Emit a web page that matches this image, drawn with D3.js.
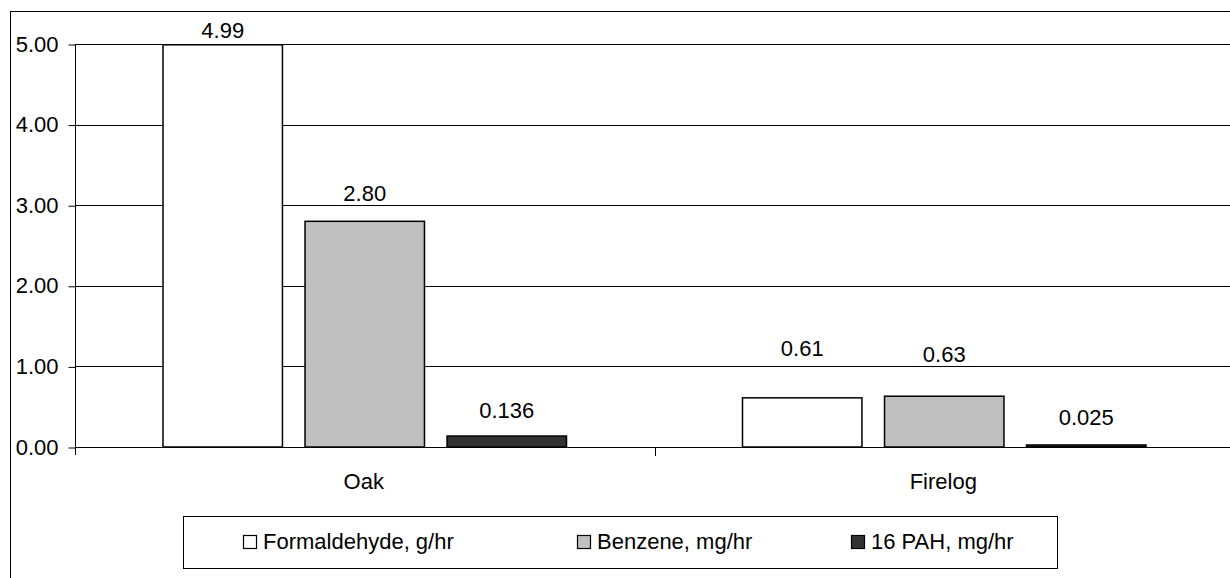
<!DOCTYPE html>
<html>
<head>
<meta charset="utf-8">
<script src="https://cdn.jsdelivr.net/npm/d3@7"></script>
<style>
  body { margin: 0; background: #fff; }
  svg { font-family: "Liberation Sans", Arial, sans-serif; }
</style>
</head>
<body>
<svg id="chart" width="1230" height="578"></svg>
<script>
var categories = ["Oak", "Firelog"]
var seriesNames = ["Formaldehyde, g/hr", "Benzene, mg/hr", "16 PAH, mg/hr"]
var formaldehyde = [4.99, 0.61]
var benzene = [2.80, 0.63]
var pah = [0.136, 0.025]
var valueLabels = [["4.99", "2.80", "0.136"], ["0.61", "0.63", "0.025"]]
var yTicks = [0, 1, 2, 3, 4, 5]

// how far each value label sits above its bar (placed by hand in the original)
var labelLift = [[7, 20, 18], [42, 34, 20]]
var fills = ["#ffffff", "#c0c0c0", "#333333"]
var fontSize = 22

var series = [formaldehyde, benzene, pah]
var rows = categories.map(function(c, i) {
  return { cat: c, vals: series.map(function(s) { return s[i] }) }
})

var svg = d3.select("#chart")
var plotLeft = 75, plotTop = 44, plotBottom = 447, catW = 579.5

// outer chart border (runs off the right and bottom of the picture)
svg.append("rect")
  .attr("x", 10.5).attr("y", 11.5)
  .attr("width", 1300).attr("height", 700)
  .attr("fill", "none").attr("stroke", "#000").attr("stroke-width", 1)

var y = d3.scaleLinear().domain([0, 5]).range([plotBottom, plotTop])
var x0 = d3.scaleBand().domain(categories).range([plotLeft, plotLeft + catW * 2])
var x1 = d3.scaleBand().domain(d3.range(3)).range([88, catW - 88]).paddingInner(0.159)

// gridlines
svg.append("g").selectAll("line")
  .data(yTicks.slice(1))
  .enter().append("line")
  .attr("x1", plotLeft).attr("x2", 1230)
  .attr("y1", function(d) { return Math.round(y(d)) + 0.5 })
  .attr("y2", function(d) { return Math.round(y(d)) + 0.5 })
  .attr("stroke", "#000")

// y axis
var yAxis = svg.append("g")
  .attr("transform", "translate(" + (plotLeft + 0.5) + ",0)")
  .call(d3.axisLeft(y).tickValues(yTicks).tickSize(7).tickPadding(10)
    .tickFormat(function(d) { return d.toFixed(2) }))
yAxis.select(".domain").attr("d", "M0," + plotTop + "V" + (plotBottom + 8))
yAxis.selectAll(".tick line").attr("stroke", "#000")
  .attr("y1", 0.5).attr("y2", 0.5)
yAxis.select(".domain").attr("stroke", "#000")
yAxis.selectAll("text")
  .attr("font-size", fontSize).attr("fill", "#000")
  .attr("font-family", "'Liberation Sans', Arial, sans-serif")

// x axis
svg.append("line")
  .attr("x1", plotLeft).attr("x2", 1230)
  .attr("y1", plotBottom + 0.5).attr("y2", plotBottom + 0.5)
  .attr("stroke", "#000")
svg.append("g").selectAll("line")
  .data(categories.slice(1))
  .enter().append("line")
  .attr("x1", function(d) { return Math.round(x0(d)) + 0.5 })
  .attr("x2", function(d) { return Math.round(x0(d)) + 0.5 })
  .attr("y1", plotBottom).attr("y2", plotBottom + 9)
  .attr("stroke", "#000")
svg.append("g").selectAll("text")
  .data(categories)
  .enter().append("text")
  .attr("x", function(d) { return x0(d) + x0.bandwidth() / 2 - 1 })
  .attr("y", 489)
  .attr("text-anchor", "middle")
  .attr("font-size", fontSize)
  .text(function(d) { return d })

// bars
var groups = svg.append("g").selectAll("g")
  .data(rows)
  .enter().append("g")
  .attr("transform", function(d) { return "translate(" + x0(d.cat) + ",0)" })

groups.selectAll("rect")
  .data(function(d) { return d.vals })
  .enter().append("rect")
  .attr("x", function(d, i) { return x1(i) })
  .attr("y", function(d) { return y(d) })
  .attr("width", x1.bandwidth())
  .attr("height", function(d) { return plotBottom - y(d) })
  .attr("fill", function(d, i) { return fills[i] })
  .attr("stroke", "#000")
  .attr("stroke-width", 1.5)

groups.each(function(row, ci) {
  d3.select(this).selectAll("text")
    .data(row.vals)
    .enter().append("text")
    .attr("x", function(d, i) { return x1(i) + x1.bandwidth() / 2 })
    .attr("y", function(d, i) { return y(d) - labelLift[ci][i] })
    .attr("text-anchor", "middle")
    .attr("font-size", fontSize)
    .text(function(d, i) { return valueLabels[ci][i] })
})

// legend
var legend = svg.append("g")
legend.append("rect")
  .attr("x", 183.5).attr("y", 516.5)
  .attr("width", 874).attr("height", 52)
  .attr("fill", "#fff").attr("stroke", "#000")
var legendX = [243, 577, 851]
seriesNames.forEach(function(name, i) {
  legend.append("rect")
    .attr("x", legendX[i] + 0.5).attr("y", 535.5)
    .attr("width", 13).attr("height", 13)
    .attr("fill", fills[i]).attr("stroke", "#000").attr("stroke-width", 1.2)
  legend.append("text")
    .attr("x", legendX[i] + 20).attr("y", 549)
    .attr("font-size", fontSize)
    .text(name)
})
</script>
</body>
</html>
